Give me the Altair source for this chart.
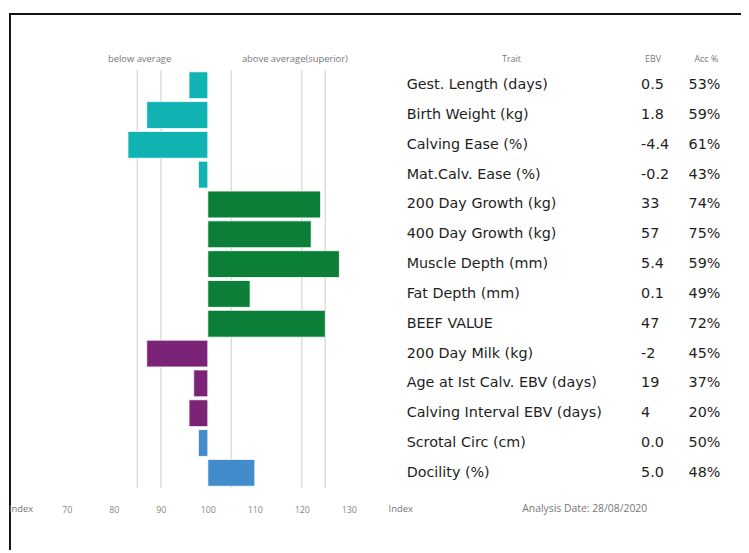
import altair as alt
import pandas as pd

traits = [
    "Gest. Length (days)", "Birth Weight (kg)", "Calving Ease (%)", "Mat.Calv. Ease (%)",
    "200 Day Growth (kg)", "400 Day Growth (kg)", "Muscle Depth (mm)", "Fat Depth (mm)",
    "BEEF VALUE", "200 Day Milk (kg)", "Age at Ist Calv. EBV (days)",
    "Calving Interval EBV (days)", "Scrotal Circ (cm)", "Docility (%)",
]
index_vals = [96, 87, 83, 98, 124, 122, 128, 109, 125, 87, 97, 96, 98, 110]
ebv = ["0.5", "1.8", "-4.4", "-0.2", "33", "57", "5.4", "0.1", "47", "-2", "19", "4", "0.0", "5.0"]
acc = ["53%", "59%", "61%", "43%", "74%", "75%", "59%", "49%", "72%", "45%", "37%", "20%", "50%", "48%"]
groups = ["calving"] * 4 + ["growth"] * 5 + ["maternal"] * 3 + ["other"] * 2
group_names = ["calving", "growth", "maternal", "other"]
group_colors = ["#10b2b2", "#0b7e38", "#7a2377", "#438ccb"]
grid_vals = [85, 90, 105, 120, 125]
tick_vals = [70, 80, 90, 100, 110, 120, 130]
baseline = 100

df = pd.DataFrame({
    "trait": traits, "index": index_vals, "ebv": ebv, "acc": acc,
    "group": groups, "base": [baseline] * len(traits),
})
grid_df = pd.DataFrame({"g": grid_vals})

W, H = 741, 422
FONT = "Open Sans"
TFONT = "DejaVu Sans"
xscale = alt.Scale(domain=[57.474, 213.474], zero=False, nice=False)
xaxis = alt.Axis(values=tick_vals, domain=False, ticks=False, tickSize=0, grid=False,
                 labelPadding=18, labelFontSize=9, labelColor="#888",
                 labelFont=FONT, title=None)
yenc = alt.Y("trait:N", sort=traits, axis=None,
             scale=alt.Scale(paddingInner=0.1, paddingOuter=0.05))

grid = alt.Chart(grid_df).mark_rule(color="#dcdcdc", strokeWidth=1.5).encode(
    x=alt.X("g:Q", scale=xscale, axis=xaxis)
)

bars = alt.Chart(df).mark_bar(stroke="white", strokeWidth=1, strokeOpacity=0.8).encode(
    x=alt.X("index:Q", scale=xscale, axis=xaxis),
    x2="base:Q",
    y=yenc,
    color=alt.Color("group:N", scale=alt.Scale(domain=group_names, range=group_colors), legend=None),
)

trait_txt = alt.Chart(df).mark_text(align="left", baseline="middle", fontSize=14.5,
                                    font=TFONT, color="#1e1e1e").encode(
    x=alt.value(403), y=yenc, text="trait:N")
ebv_txt = alt.Chart(df).mark_text(align="left", baseline="middle", fontSize=14.5,
                                  font=TFONT, color="#1e1e1e").encode(
    x=alt.value(640), y=yenc, text="ebv:N")
acc_txt = alt.Chart(df).mark_text(align="left", baseline="middle", fontSize=14.5,
                                  font=TFONT, color="#1e1e1e").encode(
    x=alt.value(688), y=yenc, text="acc:N")


def label(txt, x, y, size=9, align="center", color="#777"):
    return alt.Chart(pd.DataFrame({"t": [txt]})).mark_text(
        align=align, baseline="middle", fontSize=size, font=FONT, color=color
    ).encode(x=alt.value(x), y=alt.value(y), text="t:N")


headers = [
    label("below average", 133, -11, size=9.5),
    label("above average(superior)", 290, -11, size=9.5),
    label("Trait", 509, -11),
    label("EBV", 652, -11),
    label("Acc %", 706, -11),
    label("Index", 1, 444, size=9.5, align="left"),
    label("Index", 397, 444, size=9.5),
    label("Analysis Date: 28/08/2020", 583, 444, size=10.5),
]

border_top = alt.Chart(pd.DataFrame({"k": [0]})).mark_rule(color="#111", strokeWidth=2).encode(
    x=alt.value(1), x2=alt.value(W), y=alt.value(-57))
border_left = alt.Chart(pd.DataFrame({"k": [0]})).mark_rule(color="#111", strokeWidth=2).encode(
    x=alt.value(2), y=alt.value(-57), y2=alt.value(485))

chart = alt.layer(grid, bars, trait_txt, ebv_txt, acc_txt, border_top, border_left, *headers).properties(
    width=W, height=H,
    padding={"top": 60, "left": 0, "right": 0, "bottom": 63},
    autosize=alt.AutoSizeParams(type="none"),
).configure_view(strokeWidth=0)

chart.save("out.html", embed_options={"renderer": "svg", "actions": False})
